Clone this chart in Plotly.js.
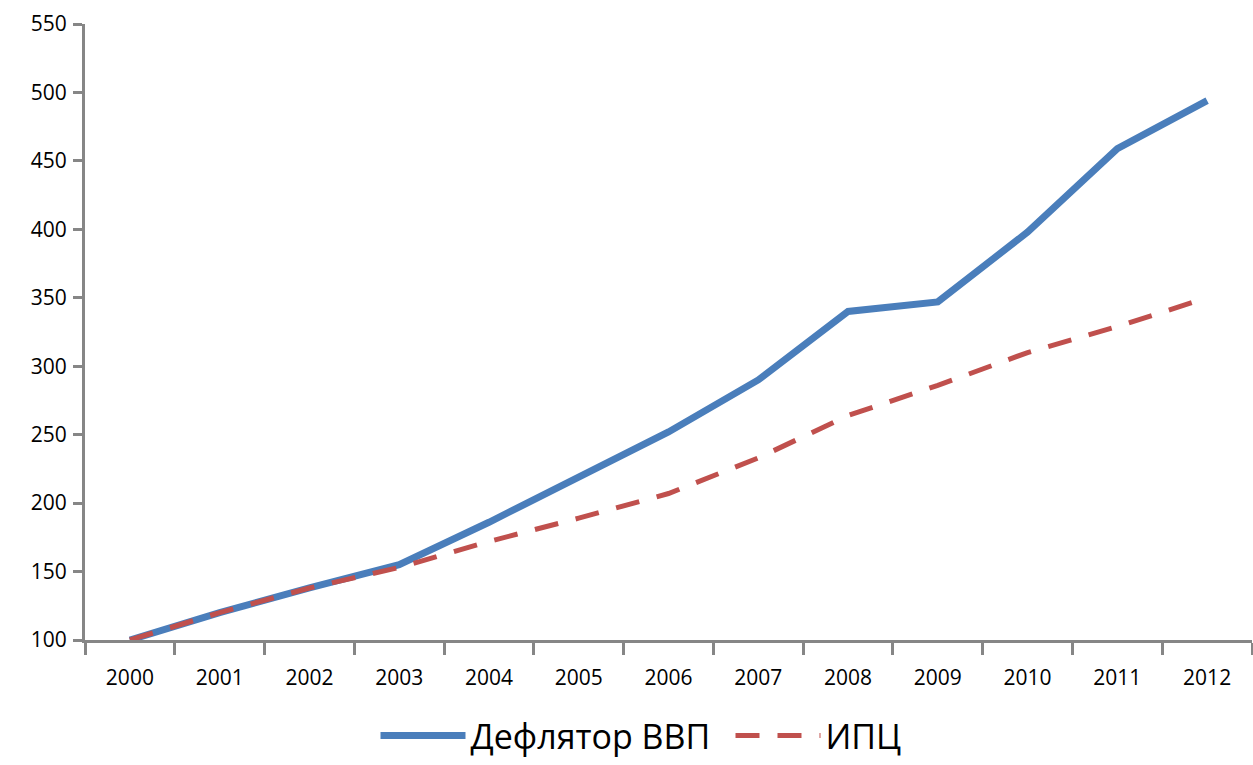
<!DOCTYPE html>
<html><head><meta charset="utf-8">
<script src="https://cdn.plot.ly/plotly-3.0.1.min.js"></script>
<style>html,body{margin:0;padding:0;background:#fff}#chart{width:1253px;height:765px}</style>
</head><body><div id="chart"></div>
<script>
const years = ["2000","2001","2002","2003","2004","2005","2006","2007","2008","2009","2010","2011","2012"];
const deflator = [100,120,138,155,186,219,252,290,340,347,398,459,494];
const cpi = [100,120,138,153,172,189,207,233,264,286,310,329,350];
const seriesNames = ["Дефлятор ВВП","ИПЦ"];
const yTicks = [100,150,200,250,300,350,400,450,500,550];

const traces = [
  {x: years, y: deflator, name: seriesNames[0], type: "scatter", mode: "lines",
   line: {color: "#4a7ebb", width: 7}},
  {x: years, y: cpi, name: seriesNames[1], type: "scatter", mode: "lines",
   line: {color: "#c0504d", width: 5, dash: "24px,18px"}}
];
const layout = {
  width: 1253, height: 765,
  margin: {l: 85, r: 1, t: 24, b: 125, autoexpand: false},
  paper_bgcolor: "#fff", plot_bgcolor: "#fff",
  font: {family: "Open Sans, DejaVu Sans, sans-serif", color: "#000", size: 21},
  xaxis: {type: "category", range: [-0.5, 12.5], showgrid: false, zeroline: false, automargin: false,
    showline: true, linecolor: "#868686", linewidth: 3,
    ticks: "outside", tickson: "boundaries", ticklen: 12, tickwidth: 3, tickcolor: "#868686",
    ticklabelstandoff: 17, tickfont: {size: 21}},
  yaxis: {range: [100, 550], tickvals: yTicks, showgrid: false, zeroline: false, automargin: false,
    showline: true, linecolor: "#868686", linewidth: 3,
    ticks: "outside", ticklen: 9, tickwidth: 3, tickcolor: "#868686",
    ticklabelstandoff: 2, tickfont: {size: 21}},
  showlegend: true,
  legend: {orientation: "h", xref: "container", yref: "container", x: 0.583, xanchor: "center",
    y: 0.0, yanchor: "bottom", font: {size: 34}, itemwidth: 85, tracegroupgap: 0,
    entrywidth: 255, entrywidthmode: "pixels"},
};
Plotly.newPlot("chart", traces, layout, {displayModeBar: false, staticPlot: true});
</script></body></html>
